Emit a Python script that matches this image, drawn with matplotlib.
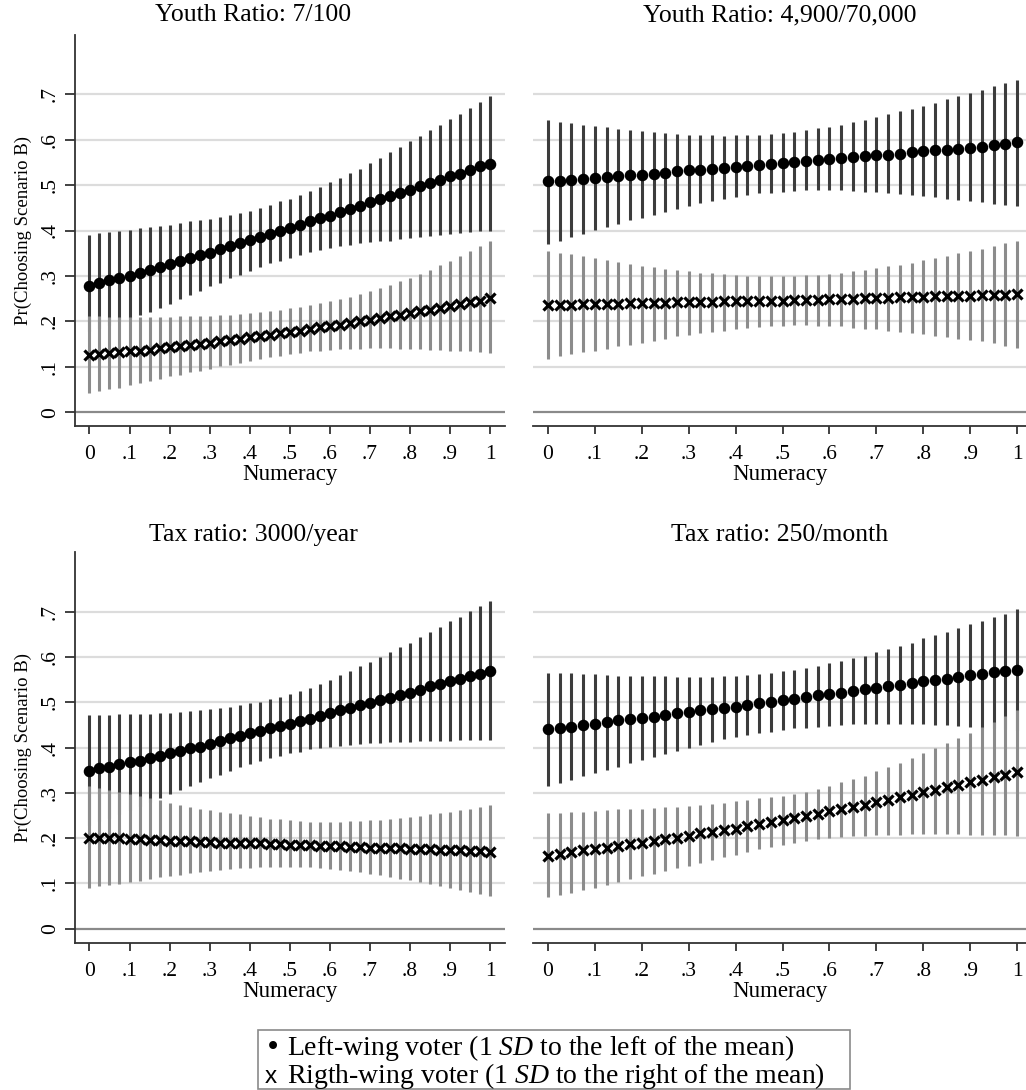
import matplotlib
matplotlib.use("Agg")
import matplotlib.pyplot as plt
import numpy as np

plt.rcParams['font.family'] = ['Liberation Serif', 'DejaVu Serif']
plt.rcParams['mathtext.fontset'] = 'custom'
plt.rcParams['mathtext.rm'] = 'Liberation Serif'
plt.rcParams['mathtext.it'] = 'Liberation Serif:italic'

numeracy = [i / 40 for i in range(41)]
titles = ["Youth Ratio: 7/100", "Youth Ratio: 4,900/70,000",
          "Tax ratio: 3000/year", "Tax ratio: 250/month"]
yticks = [0, .1, .2, .3, .4, .5, .6, .7]
ytick_labels = ["0", ".1", ".2", ".3", ".4", ".5", ".6", ".7"]
xticks = [0, .1, .2, .3, .4, .5, .6, .7, .8, .9, 1]
xtick_labels = ["0", ".1", ".2", ".3", ".4", ".5", ".6", ".7", ".8", ".9", "1"]

# panel 1: youth ratio 7/100
p1_left = [.278, .285, .291, .296, .301, .307, .313, .320, .326, .332, .339, .346, .351, .359,
           .365, .372, .379, .385, .392, .399, .405, .412, .420, .427, .432, .440, .447, .454,
           .462, .469, .475, .482, .489, .497, .504, .511, .519, .525, .533, .541, .547]
p1_left_lo = [.180, .186, .193, .200, .207, .214, .221, .229, .238, .249, .259, .268, .278, .285,
              .295, .303, .311, .319, .328, .334, .340, .346, .352, .357, .361, .365, .368, .372,
              .374, .376, .378, .381, .383, .385, .387, .390, .393, .394, .396, .398, .400]
p1_left_hi = [.390, .394, .396, .399, .401, .405, .407, .410, .412, .416, .420, .423, .426, .429,
              .434, .438, .443, .449, .456, .464, .470, .478, .486, .495, .506, .515, .526, .536,
              .548, .559, .572, .583, .596, .608, .621, .632, .646, .657, .670, .682, .695]
p1_right = [.126, .128, .130, .132, .134, .136, .138, .141, .143, .146, .148, .151, .153, .156,
            .159, .162, .165, .168, .171, .174, .177, .180, .183, .187, .190, .193, .197, .200,
            .204, .207, .211, .215, .218, .222, .226, .230, .234, .238, .242, .246, .251]
p1_right_lo = [.042, .047, .051, .054, .060, .064, .068, .073, .079, .083, .088, .092, .095, .101,
               .105, .109, .114, .118, .122, .125, .128, .131, .134, .136, .137, .139, .139, .140,
               .141, .141, .141, .140, .139, .139, .138, .137, .136, .136, .134, .133, .131]
p1_right_hi = [.211, .211, .210, .210, .210, .210, .210, .210, .210, .211, .211, .212, .213, .214,
               .215, .217, .219, .221, .223, .226, .229, .232, .236, .240, .244, .249, .254, .260,
               .266, .273, .280, .288, .296, .305, .314, .324, .334, .344, .354, .365, .376]

# panel 2: youth ratio 4,900/70,000
p2_left = [.508, .509, .511, .513, .515, .517, .519, .521, .523, .525, .527, .530, .532, .534,
           .536, .538, .540, .542, .544, .547, .549, .551, .553, .555, .557, .559, .561, .563,
           .565, .567, .569, .572, .574, .576, .578, .580, .582, .584, .587, .590, .594]
p2_left_lo = [.370, .378, .385, .393, .401, .407, .415, .422, .428, .435, .441, .447, .453, .460,
              .464, .469, .473, .478, .482, .483, .484, .486, .488, .488, .488, .488, .486, .485,
              .484, .482, .481, .478, .476, .473, .470, .467, .465, .463, .459, .456, .454]
p2_left_hi = [.643, .639, .636, .632, .630, .627, .624, .621, .619, .616, .614, .613, .611, .610,
              .609, .608, .609, .610, .611, .613, .615, .617, .621, .625, .628, .632, .638, .643,
              .649, .656, .662, .668, .674, .681, .689, .696, .702, .710, .717, .724, .732]
p2_right = [.236, .237, .237, .238, .238, .239, .239, .240, .240, .241, .241, .242, .242, .243,
            .243, .244, .244, .245, .245, .246, .246, .247, .247, .248, .249, .249, .250, .251,
            .251, .252, .253, .253, .254, .255, .255, .256, .257, .258, .258, .259, .260]
p2_right_lo = [.118, .123, .128, .132, .136, .140, .145, .149, .153, .158, .162, .167, .170, .174,
               .177, .180, .183, .186, .188, .190, .191, .192, .192, .191, .190, .189, .186, .184,
               .183, .180, .177, .174, .172, .169, .165, .162, .159, .156, .152, .147, .142]
p2_right_hi = [.356, .351, .348, .343, .339, .335, .331, .327, .323, .319, .316, .313, .310, .307,
               .306, .304, .302, .301, .300, .300, .300, .300, .302, .303, .304, .307, .310, .313,
               .317, .321, .324, .329, .335, .340, .345, .350, .355, .360, .366, .372, .378]

# panel 3: tax ratio 3000/year
p3_left = [.349, .354, .358, .363, .367, .371, .376, .382, .388, .393, .398, .402, .408, .414,
           .420, .426, .432, .436, .443, .448, .452, .458, .464, .470, .476, .482, .488, .493,
           .499, .505, .510, .517, .521, .527, .535, .540, .546, .552, .557, .563, .569]
p3_left_lo = [.229, .237, .245, .253, .262, .270, .279, .288, .297, .305, .315, .323, .332, .340,
              .349, .357, .364, .371, .376, .382, .388, .391, .396, .399, .402, .404, .406, .408,
              .410, .411, .412, .412, .413, .414, .415, .415, .415, .416, .416, .416, .417]
p3_left_hi = [.471, .471, .472, .473, .474, .474, .475, .476, .477, .479, .480, .483, .485, .488,
              .490, .494, .498, .501, .507, .512, .518, .524, .532, .540, .549, .560, .568, .579,
              .590, .601, .612, .621, .632, .645, .656, .667, .679, .689, .701, .713, .724]
p3_right = [.201, .201, .200, .199, .198, .197, .196, .196, .194, .193, .193, .192, .191, .190,
            .190, .189, .188, .188, .187, .186, .185, .185, .184, .183, .182, .182, .181, .180,
            .179, .179, .178, .177, .176, .176, .175, .174, .174, .173, .172, .171, .169]
p3_right_lo = [.090, .093, .096, .099, .102, .106, .109, .113, .115, .118, .122, .125, .128, .130,
               .132, .133, .134, .135, .136, .136, .136, .136, .135, .134, .132, .129, .126, .124,
               .121, .118, .114, .110, .107, .103, .099, .094, .090, .085, .081, .076, .071]
p3_right_hi = [.314, .310, .307, .302, .298, .293, .288, .283, .277, .273, .269, .265, .262, .258,
               .255, .252, .249, .246, .243, .241, .239, .238, .236, .235, .235, .236, .237, .238,
               .239, .240, .242, .244, .246, .249, .252, .255, .258, .261, .265, .268, .272]

# panel 4: tax ratio 250/month
p4_left = [.440, .443, .446, .449, .453, .456, .460, .463, .465, .468, .471, .476, .479, .482,
           .485, .488, .490, .494, .498, .501, .504, .507, .511, .515, .518, .521, .525, .529,
           .531, .535, .539, .543, .546, .549, .551, .555, .560, .563, .566, .569, .571]
p4_left_lo = [.314, .321, .329, .336, .343, .351, .358, .365, .373, .379, .385, .392, .399, .405,
              .413, .418, .423, .428, .432, .435, .439, .442, .444, .446, .448, .449, .451, .451,
              .452, .452, .452, .451, .451, .450, .449, .447, .445, .443, .442, .440, .439]
p4_left_hi = [.565, .564, .564, .563, .562, .560, .559, .558, .558, .557, .557, .556, .555, .555,
              .555, .557, .558, .560, .562, .564, .568, .571, .575, .580, .586, .591, .597, .603,
              .610, .617, .624, .632, .641, .648, .655, .665, .672, .680, .689, .696, .706]
p4_right = [.161, .165, .168, .173, .176, .179, .183, .187, .190, .194, .198, .201, .205, .210,
            .213, .217, .221, .226, .230, .235, .240, .244, .249, .254, .259, .264, .269, .274,
            .279, .285, .290, .296, .301, .307, .312, .317, .323, .328, .334, .339, .345]
p4_right_lo = [.069, .074, .079, .085, .090, .096, .102, .109, .115, .121, .127, .133, .139, .145,
               .151, .157, .163, .169, .175, .180, .185, .190, .193, .197, .200, .202, .204, .205,
               .206, .207, .207, .208, .209, .209, .209, .208, .207, .207, .206, .206, .205]
p4_right_hi = [.255, .256, .257, .258, .260, .261, .263, .263, .265, .266, .268, .269, .271, .274,
               .276, .278, .281, .284, .288, .290, .293, .298, .302, .308, .315, .323, .330, .338,
               .347, .356, .365, .376, .388, .398, .410, .420, .433, .445, .457, .470, .482]

panels = [
    (p1_left, p1_left_lo, p1_left_hi, p1_right, p1_right_lo, p1_right_hi),
    (p2_left, p2_left_lo, p2_left_hi, p2_right, p2_right_lo, p2_right_hi),
    (p3_left, p3_left_lo, p3_left_hi, p3_right, p3_right_lo, p3_right_hi),
    (p4_left, p4_left_lo, p4_left_hi, p4_right, p4_right_lo, p4_right_hi),
]

W, H = 1026, 1090
fig = plt.figure(figsize=(W / 100, H / 100), dpi=100)

# axes boxes in pixels: left, right, top, bottom, xlim, ylim
boxes = [
    (75, 505, 35, 426, (-0.036, 1.037), (-0.030, 0.830)),
    (533, 1026, 35, 426, (-0.032, 1.019), (-0.030, 0.830)),
    (75, 505, 552, 943, (-0.036, 1.037), (-0.032, 0.832)),
    (533, 1026, 552, 943, (-0.032, 1.019), (-0.032, 0.832)),
]
title_x = [253, 780, 253, 780]
title_y = [15, 15, 535, 535]

dark = '#3c3c3c'
grey = '#8c8c8c'

for k, (left, lo, hi, right, rlo, rhi) in enumerate(panels):
    l, r, t, b, xl, yl = boxes[k]
    ax = fig.add_axes([l / W, 1 - b / H, (r - l) / W, (b - t) / H])
    ax.set_xlim(*xl)
    ax.set_ylim(*yl)
    for yv in yticks[1:]:
        ax.axhline(yv, color='#dcdcdc', lw=1.6, zorder=0)
    ax.axhline(0, color='#8a8a8a', lw=1.6, zorder=0)

    ax.vlines(numeracy, lo, hi, color=dark, lw=2.2, zorder=2)
    ax.plot(numeracy, left, 'o', color='black', ms=7.3, zorder=3)
    ax.vlines(numeracy, rlo, rhi, color=grey, lw=2.2, zorder=4)
    ax.plot(numeracy, right, 'x', color='black', ms=7.2, mew=2.3, zorder=5)

    for s in ['top', 'right']:
        ax.spines[s].set_visible(False)
    ax.spines['bottom'].set_color('#333333')
    ax.spines['bottom'].set_linewidth(1.3)
    ax.set_xticks(xticks)
    ax.set_xticklabels(xtick_labels, fontsize=15.5)
    ax.tick_params(axis='x', length=6, width=1.3, color='#333333', pad=8)
    ax.set_xlabel("Numeracy", fontsize=16.5, labelpad=0)
    if k % 2 == 0:
        ax.spines['left'].set_color('#333333')
        ax.spines['left'].set_linewidth(1.3)
        ax.set_yticks(yticks)
        ax.set_yticklabels(ytick_labels, fontsize=15.5, rotation=90, va='center')
        ax.tick_params(axis='y', length=7, width=1.3, color='#333333', pad=4)
        ax.set_ylabel("Pr(Choosing Scenario B)", fontsize=13.5, labelpad=6)
    else:
        ax.spines['left'].set_visible(False)
        ax.set_yticks([])
    fig.text(title_x[k] / W, 1 - title_y[k] / H, titles[k], fontsize=18.5,
             ha='center', va='center')

# legend box
fig.patches.append(plt.Rectangle((258 / W, 1 - 1089 / H), (850 - 258) / W, (1089 - 1030) / H,
                                 transform=fig.transFigure, fill=False,
                                 edgecolor='#8a8a8a', lw=1.2))
fig.text(265 / W, 1 - 1055 / H, "\u2022", fontsize=19.5, ha='left', va='baseline',
         family=['DejaVu Sans'])
fig.text(265 / W, 1 - 1083 / H, "x", fontsize=17.5, ha='left', va='baseline',
         family=['Liberation Sans'])
fig.text(287 / W, 1 - 1055 / H, r"Left-wing voter (1 $\mathit{SD}$ to the left of the mean)",
         fontsize=20, ha='left', va='baseline')
fig.text(287 / W, 1 - 1083 / H, r"Rigth-wing voter (1 $\mathit{SD}$ to the right of the mean)",
         fontsize=20, ha='left', va='baseline')

fig.savefig("out.png", dpi=100)
